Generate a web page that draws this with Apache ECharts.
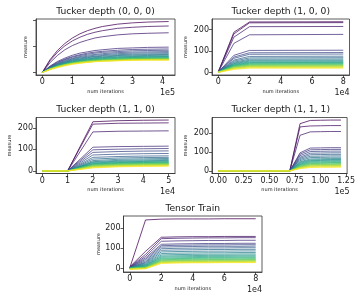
<!DOCTYPE html>
<html><head><meta charset="utf-8">
<script src="https://cdn.jsdelivr.net/npm/echarts@6/dist/echarts.min.js"></script>
<style>html,body{margin:0;padding:0;background:#fff}#c{width:358px;height:303px}</style>
</head><body><div id="c"></div>
<script>
// ---------------- data ----------------
const titles = ['Tucker depth (0, 0, 0)', 'Tucker depth (1, 0, 0)', 'Tucker depth (1, 1, 0)', 'Tucker depth (1, 1, 1)', 'Tensor Train'];
const offsetTexts = ['1e5', '1e4', '1e4', '1e5', '1e4'];
const yTicks = [0, 100, 200];
const xTicks1 = [0, 100000, 200000, 300000, 400000];
const xTicks2 = [0, 20000, 40000, 60000, 80000];
const xTicks3 = [0, 10000, 20000, 30000, 40000, 50000];
const xTicks4 = [0, 25000, 50000, 75000, 100000, 125000];
const xTicks5 = [0, 20000, 40000, 60000, 80000];

// Tucker depth (0, 0, 0)
const x1 = [0, 25000, 50000, 75000, 100000, 125000, 150000, 175000, 200000, 250000, 300000, 350000, 420000];
const y1 = [
  [0,48,84,111,132,148,160,169,176,185,190,193,195],
  [0,44,77,102,121,135,146,154,160,169,173,176,178],
  [0,37,65,87,103,115,124,132,137,144,148,150,152],
  [0,24,42,55,66,74,79,84,87,92,94,96,97],
  [0,22,39,51,61,68,74,78,81,85,88,89,90],
  [0,21,37,49,58,65,70,74,77,80,83,84,85],
  [0,20,34,46,54,61,66,69,72,76,78,79,80],
  [0,19,33,43,52,58,62,66,68,72,74,75,76],
  [0,18,31,41,49,55,59,62,65,68,70,71,72],
  [0,17,30,39,47,52,57,60,62,65,67,68,69],
  [0,16,28,38,45,50,54,57,59,63,64,65,66],
  [0,15,27,36,43,48,52,55,57,60,61,62,63],
  [0,15,26,35,41,46,50,53,55,58,59,60,61],
  [0,14,25,34,40,45,48,51,53,56,57,58,59],
  [0,14,25,33,39,43,47,49,51,54,56,56,57],
  [0,13,24,31,37,42,45,48,50,52,54,54,55],
  [0,13,23,31,37,41,44,47,49,51,53,53,54],
  [0,13,23,30,36,40,43,46,48,50,52,52,53],
  [0,13,22,30,35,39,43,45,47,49,51,51,52],
  [0,12,22,29,35,39,42,44,46,48,50,50,51],
  [0,12,21,29,34,38,41,43,45,47,49,50,50],
  [0,12,21,28,33,37,40,42,44,46,48,49,49],
  [0,12,20,27,33,36,39,42,43,45,47,48,48],
  [0,10,18,25,31,35,38,41,43,45,46,47,47]
];

// Tucker depth (1, 0, 0)
const x2 = [0, 10000, 20000, 80000];
const y2 = [
  [2,188,236,237],
  [2,180,232,233],
  [2,165,214,215],
  [2,136,176,178],
  [2,80,103,104],
  [2,72,92,93],
  [2,66,85,86],
  [2,58,75,76],
  [2,53,68,69],
  [2,48,62,63],
  [2,44,57,58],
  [2,41,53,54],
  [2,38,49,50],
  [2,35,46,47],
  [2,33,43,44],
  [2,31,40,41],
  [2,29,38,39],
  [1,27,35,36],
  [1,25,33,34],
  [1,23,30,31],
  [1,21,28,29],
  [1,19,26,26],
  [1,17,23,23],
  [0,14,20,20]
];

// Tucker depth (1, 1, 0)
const x3 = [0, 10000, 20000, 30000, 40000, 50000];
const y3 = [
  [0,0,228,233,235,236],
  [0,0,217,221,222,223],
  [0,0,181,184,185,186],
  [0,0,110,113,114,115],
  [0,0,98,101,103,104],
  [0,0,86,90,92,93],
  [0,0,74,78,80,81],
  [0,0,63,67,69,70],
  [0,0,55,60,62,63],
  [0,0,48,54,56,58],
  [0,0,43,49,51,53],
  [0,0,40,45,47,49],
  [0,0,37,42,44,46],
  [0,0,34,39,41,43],
  [0,0,32,37,39,40],
  [0,0,30,35,37,38],
  [0,0,28,33,35,36],
  [0,0,26,31,33,34],
  [0,0,24,29,31,32],
  [0,0,22,27,29,30],
  [0,0,20,25,27,28],
  [0,0,18,23,25,26],
  [0,0,16,21,23,24],
  [0,0,14,19,21,22]
];

// Tucker depth (1, 1, 1)
const x4 = [0, 70000, 80000, 90000, 100000, 110000, 120000];
const y4 = [
  [0,0,248,265,266,267,267],
  [0,0,231,236,237,238,238],
  [0,0,187,205,206,207,207],
  [0,0,95,120,121,122,122],
  [0,0,88,111,112,113,113],
  [0,0,80,102,103,104,104],
  [0,0,72,93,94,95,95],
  [0,0,66,85,86,87,87],
  [0,0,60,77,78,79,79],
  [0,0,54,70,71,72,72],
  [0,0,48,63,64,65,65],
  [0,0,44,58,59,60,60],
  [0,0,40,54,55,56,56],
  [0,0,36,50,51,52,52],
  [0,0,33,46,47,48,48],
  [0,0,30,42,43,44,44],
  [0,0,27,39,40,41,41],
  [0,0,24,36,37,37,38],
  [0,0,22,33,34,34,35],
  [0,0,20,30,31,31,32],
  [0,0,18,27,28,28,29],
  [0,0,16,24,25,25,26],
  [0,0,14,21,22,22,23],
  [0,0,12,18,19,19,20]
];

// Tensor Train
const x5 = [0, 10000, 20000, 30000, 40000, 50000, 60000, 70000, 80000];
const y5 = [
  [3,241,245,246,246,246,247,247,247],
  [8,85,155,157,158,158,159,159,159],
  [7,70,148,150,151,152,152,153,153],
  [6,60,135,137,138,139,139,140,140],
  [6,52,120,122,123,124,124,125,125],
  [5,45,113,115,116,117,117,118,118],
  [5,38,106,108,109,110,110,110,111],
  [4,32,98,100,101,102,102,103,103],
  [4,28,90,92,93,94,94,95,95],
  [3,24,82,84,85,86,86,87,87],
  [3,20,74,76,77,78,78,79,79],
  [2,17,67,69,70,71,71,72,72],
  [2,14,61,63,64,65,65,66,66],
  [2,12,56,58,59,60,60,61,61],
  [1,10,51,53,54,55,55,56,56],
  [1,8,47,49,50,51,51,52,52],
  [0,6,43,45,46,47,47,48,48],
  [0,5,40,42,43,44,44,44,45],
  [-1,4,37,39,40,41,41,41,42],
  [-1,3,34,36,37,38,38,38,39],
  [-2,2,31,33,34,35,35,35,36],
  [-3,1,29,31,32,32,33,33,33],
  [-4,0,27,29,30,30,31,31,31],
  [-5,-2,25,27,28,28,29,29,29]
];

// ---------------- layout / style ----------------
const FONT = 'DejaVu Sans';
const TXT = '#1a1a1a';
const AX = '#333';
const grids = [
  {left: 36, top: 19, width: 139, height: 56},
  {left: 212, top: 19, width: 137.5, height: 56},
  {left: 36, top: 117.5, width: 139, height: 56},
  {left: 212, top: 117.5, width: 137.5, height: 56},
  {left: 123.5, top: 216, width: 138.5, height: 56}
];
const xRanges = [[-21000, 441000], [-4000, 84000], [-2500, 52500], [-6000, 126000], [-4000, 84000]];
const yRanges = [[-9.75, 204.75], [-11.9, 249.9], [-11.8, 247.8], [-13.4, 280.4], [-17.6, 260.6]];
const xTickSets = [xTicks1, xTicks2, xTicks3, xTicks4, xTicks5];
const xFormat = [
  v => String(v / 1e5),
  v => String(v / 1e4),
  v => String(v / 1e4),
  v => (v / 1e5).toFixed(2),
  v => String(v / 1e4)
];
const yNameGap = [8, 24, 24, 24, 22];
const xs = [x1, x2, x3, x4, x5];
const ys = [y1, y2, y3, y4, y5];

const VIR = ['#440154','#472d7b','#3b528b','#2c728e','#21918c','#28ae80','#5ec962','#addc30','#fde725'];
function hex(c){return [parseInt(c.slice(1,3),16),parseInt(c.slice(3,5),16),parseInt(c.slice(5,7),16)];}
function viridis(t){
  const p = t * (VIR.length - 1); const i = Math.min(Math.floor(p), VIR.length - 2); const f = p - i;
  const a = hex(VIR[i]), b = hex(VIR[i+1]);
  return 'rgb(' + a.map((v,k)=>Math.round(v + (b[k]-v)*f)).join(',') + ')';
}

const xAxis = [], yAxis = [], series = [], graphic = [];
grids.forEach((g, k) => {
  xAxis.push({
    type: 'value', gridIndex: k, min: xRanges[k][0], max: xRanges[k][1],
    name: 'num iterations', nameLocation: 'middle', nameGap: 14,
    nameTextStyle: {fontFamily: FONT, fontSize: 5, color: TXT},
    axisLine: {show: true, onZero: false, lineStyle: {color: AX, width: 0.8}},
    axisTick: {show: true, inside: false, length: 3, customValues: xTickSets[k], lineStyle: {color: AX, width: 0.8}},
    axisLabel: {show: true, customValues: xTickSets[k], formatter: xFormat[k], fontFamily: FONT, fontSize: 8, color: TXT, margin: 3},
    splitLine: {show: false}
  });
  yAxis.push({
    type: 'value', gridIndex: k, min: yRanges[k][0], max: yRanges[k][1],
    name: 'measure', nameLocation: 'middle', nameGap: yNameGap[k], nameRotate: 90,
    nameTextStyle: {fontFamily: FONT, fontSize: 5, color: TXT},
    axisLine: {show: true, onZero: false, lineStyle: {color: AX, width: 0.8}},
    axisTick: {show: true, inside: false, length: 3, customValues: yTicks, lineStyle: {color: AX, width: 0.8}},
    axisLabel: {show: k !== 0, customValues: yTicks, fontFamily: FONT, fontSize: 8, color: TXT, margin: 3},
    splitLine: {show: false}
  });
  const n = ys[k].length;
  ys[k].forEach((row, i) => {
    series.push({
      type: 'line', xAxisIndex: k, yAxisIndex: k, symbol: 'none', silent: true,
      data: row.map((v, j) => [xs[k][j], v]),
      lineStyle: {color: viridis(i / (n - 1)), width: 1, opacity: 0.75},
      z: 2 + i
    });
  });
  graphic.push({
    type: 'text', x: g.left + g.width / 2, y: g.top - 7.5,
    style: {text: titles[k], font: '9.2px ' + FONT, fill: TXT, align: 'center', verticalAlign: 'middle', textAlign: 'center', textVerticalAlign: 'middle'}
  });
  graphic.push({
    type: 'text', x: g.left + g.width, y: g.top + g.height + 18,
    style: {text: offsetTexts[k], font: '8px ' + FONT, fill: TXT, align: 'right', verticalAlign: 'middle', textAlign: 'right', textVerticalAlign: 'middle'}
  });
});

const chart = echarts.init(document.getElementById('c'), null, {renderer: 'canvas'});
chart.setOption({
  animation: false,
  backgroundColor: '#fff',
  grid: grids.map(g => Object.assign({show: true, borderColor: AX, borderWidth: 0.8, containLabel: false}, g)),
  xAxis, yAxis, series, graphic
});
</script></body></html>
